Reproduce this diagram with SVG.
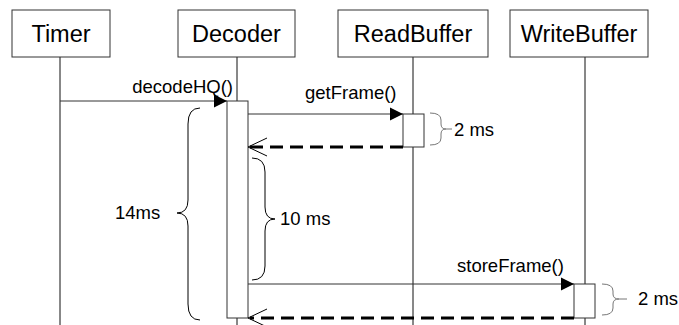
<svg xmlns="http://www.w3.org/2000/svg" width="679" height="325" viewBox="0 0 679 325">
<style>
.box{fill:#fff;stroke:#333;stroke-width:1}
.life{stroke:#111;stroke-width:1;fill:none}
.act{fill:#fff;stroke:#333;stroke-width:1}
.msg{stroke:#333;stroke-width:1;fill:none}
.ret{stroke:#000;stroke-width:3;stroke-dasharray:13 7;fill:none}
.open{stroke:#000;stroke-width:1;fill:none}
.brace{stroke:#000;stroke-width:1;fill:none}
.brace2{stroke:#777;stroke-width:1;fill:none}
.head{font-family:"Liberation Sans",Arial,sans-serif;font-size:23.5px;fill:#000;text-anchor:middle}
.lbl{font-family:"Liberation Sans",Arial,sans-serif;font-size:18.5px;fill:#000}
</style>
<defs>
<marker id="fill" markerWidth="14" markerHeight="14" refX="13" refY="7" orient="auto" markerUnits="userSpaceOnUse">
<path d="M0,0.5 L13,7 L0,13.5 Z" fill="#000"/>
</marker>
</defs>
<g id="lifelines">
<line class="life" x1="60" y1="57" x2="60" y2="325"/>
<line class="life" x1="237" y1="57" x2="237" y2="325"/>
<line class="life" x1="413" y1="57" x2="413" y2="325"/>
<line class="life" x1="585" y1="57" x2="585" y2="325"/>
</g>
<g id="Timer"><rect class="box" x="12" y="10" width="98" height="47"/><text class="head" x="61" y="42">Timer</text></g>
<g id="Decoder"><rect class="box" x="178" y="10" width="117" height="47"/><text class="head" x="236.5" y="42">Decoder</text></g>
<g id="ReadBuffer"><rect class="box" x="338" y="10" width="150" height="47"/><text class="head" x="413" y="42">ReadBuffer</text></g>
<g id="WriteBuffer"><rect class="box" x="510" y="10" width="138" height="47"/><text class="head" x="579" y="42">WriteBuffer</text></g>
<g id="activations">
<rect class="act" x="227" y="101" width="21" height="217"/>
<rect class="act" x="403" y="114" width="21" height="33"/>
<rect class="act" x="574" y="284" width="21" height="34"/>
</g>
<g id="connectors">
<line class="msg" x1="60" y1="101" x2="227" y2="101" marker-end="url(#fill)"/>
<text class="lbl" x="233" y="92.5" text-anchor="end">decodeHQ()</text>
<line class="msg" x1="248" y1="114" x2="403" y2="114" marker-end="url(#fill)"/>
<text class="lbl" x="305" y="99">getFrame()</text>
<line class="ret" x1="403" y1="147" x2="250" y2="147"/>
<path class="open" d="M267,138 L248,147 L267,156"/>
<line class="msg" x1="248" y1="284" x2="574" y2="284" marker-end="url(#fill)"/>
<text class="lbl" x="457" y="271.5">storeFrame()</text>
<line class="ret" x1="574" y1="318" x2="250" y2="318"/>
<path class="open" d="M267,309 L248,318 L267,327"/>
</g>
<g id="braces">
<path class="brace" d="M200,108 Q188,108 188,124 L188,200 Q188,213 177,213 Q188,213 188,226 L188,304 Q188,320 200,320"/>
<text class="lbl" x="115" y="219">14ms</text>
<path class="brace" d="M252,158 Q265,158 265,172 L265,207 Q265,219 275,219 Q265,219 265,231 L265,266 Q265,280 252,280"/>
<text class="lbl" x="280" y="225">10 ms</text>
<path class="brace2" d="M430,113 Q441,113 441,120 L441,124 Q441,129 446,129 L452,129 M446,129 Q441,129 441,134 L441,138 Q441,145 430,145"/>
<text class="lbl" x="454" y="136">2 ms</text>
<path class="brace2" d="M602,284 Q613,284 613,291 L613,294 Q613,299 619,299 L627,299 M619,299 Q613,299 613,304 L613,308 Q613,315 602,315"/>
<text class="lbl" x="638" y="304.5">2 ms</text>
</g>
</svg>
